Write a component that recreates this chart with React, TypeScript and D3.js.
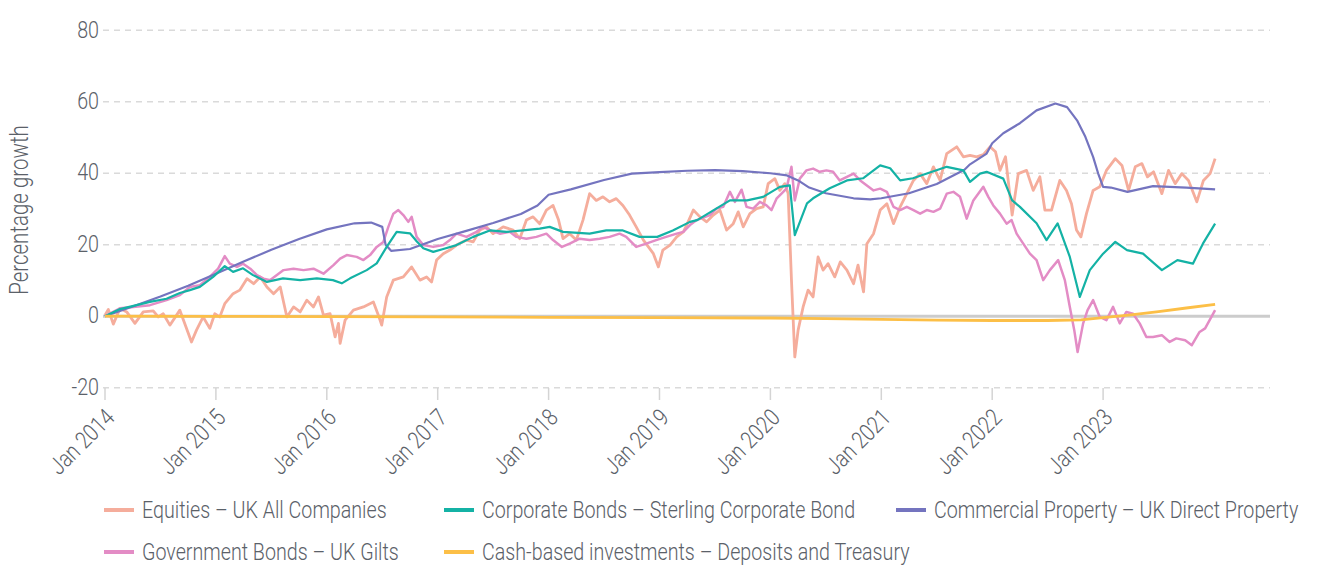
import { useEffect, useRef } from "react"
import * as d3 from "d3"

// [decimal year, percentage growth since Jan 2014]
type Point = [number, number]

const yearTicks = [2014, 2015, 2016, 2017, 2018, 2019, 2020, 2021, 2022, 2023]
const yTicks = [-20, 0, 20, 40, 60, 80]

const equities: Point[] = [
  [2014.0, 0.3], [2014.03, 1.9], [2014.075, -2.2], [2014.135, 2.2], [2014.196, 1.2], [2014.27, -2.0],
  [2014.345, 1.2], [2014.435, 1.5], [2014.48, -0.2], [2014.525, 0.7], [2014.585, -2.5], [2014.675, 1.7],
  [2014.78, -7.2], [2014.825, -3.9], [2014.885, -0.2], [2014.945, -3.4], [2014.99, 0.7], [2015.035, -0.2],
  [2015.08, 3.5], [2015.155, 6.3], [2015.215, 7.3], [2015.28, 10.5], [2015.34, 9.1], [2015.4, 11.0],
  [2015.46, 8.2], [2015.52, 6.3], [2015.58, 8.2], [2015.64, -0.2], [2015.7, 2.6], [2015.76, 1.2],
  [2015.82, 4.5], [2015.88, 2.6], [2015.925, 5.4], [2015.97, 0.3], [2016.03, 0.7], [2016.075, -5.8],
  [2016.105, -2.0], [2016.12, -7.6], [2016.165, -1.1], [2016.24, 1.7], [2016.33, 2.6], [2016.42, 4.0],
  [2016.465, 0.3], [2016.495, -2.5], [2016.54, 5.4], [2016.6, 10.1], [2016.69, 11.0], [2016.765, 13.8],
  [2016.84, 10.1], [2016.9, 11.0], [2016.945, 9.6], [2016.99, 15.7], [2017.05, 17.5], [2017.11, 18.5],
  [2017.17, 19.9], [2017.26, 21.3], [2017.32, 20.8], [2017.38, 24.1], [2017.44, 25.0], [2017.5, 23.1],
  [2017.59, 25.0], [2017.68, 24.1], [2017.74, 21.7], [2017.8, 26.9], [2017.86, 27.8], [2017.92, 25.9],
  [2017.98, 29.7], [2018.04, 31.0], [2018.09, 26.9], [2018.13, 21.7], [2018.19, 23.1], [2018.25, 21.3],
  [2018.31, 26.9], [2018.37, 34.3], [2018.43, 32.4], [2018.49, 33.4], [2018.55, 32.0], [2018.61, 32.9],
  [2018.67, 31.0], [2018.73, 28.3], [2018.79, 25.0], [2018.855, 21.3], [2018.945, 17.5], [2018.99, 13.8],
  [2019.03, 18.5], [2019.095, 19.9], [2019.155, 22.2], [2019.215, 23.6], [2019.245, 25.5], [2019.305, 29.7],
  [2019.365, 27.8], [2019.425, 26.4], [2019.485, 28.3], [2019.545, 29.7], [2019.605, 24.1], [2019.665, 25.9],
  [2019.71, 29.2], [2019.755, 25.0], [2019.815, 28.7], [2019.875, 30.1], [2019.935, 30.6], [2019.98, 37.1],
  [2020.04, 38.5], [2020.085, 35.2], [2020.13, 37.1], [2020.16, 34.3], [2020.19, 10.1], [2020.22, -11.4],
  [2020.25, -3.9], [2020.295, 2.6], [2020.34, 7.3], [2020.385, 5.4], [2020.43, 16.6], [2020.475, 12.9],
  [2020.52, 14.7], [2020.58, 11.0], [2020.63, 15.2], [2020.69, 12.9], [2020.75, 9.1], [2020.79, 14.3],
  [2020.84, 6.8], [2020.87, 20.3], [2020.93, 23.1], [2020.99, 29.7], [2021.05, 31.5], [2021.11, 25.9],
  [2021.17, 30.6], [2021.23, 34.3], [2021.29, 38.0], [2021.35, 39.9], [2021.41, 37.1], [2021.47, 41.8],
  [2021.53, 38.0], [2021.59, 45.5], [2021.68, 47.4], [2021.74, 44.6], [2021.8, 45.0], [2021.86, 44.6],
  [2021.92, 45.2], [2021.98, 47.4], [2022.03, 46.0], [2022.07, 40.8], [2022.12, 44.6], [2022.18, 28.3],
  [2022.235, 39.9], [2022.31, 40.8], [2022.37, 35.2], [2022.43, 39.0], [2022.475, 29.7], [2022.535, 29.7],
  [2022.61, 38.0], [2022.67, 35.2], [2022.715, 31.5], [2022.76, 24.1], [2022.8, 22.2], [2022.85, 28.7],
  [2022.91, 35.2], [2022.97, 36.2], [2023.03, 40.8], [2023.11, 44.1], [2023.17, 42.2], [2023.23, 35.2],
  [2023.29, 41.8], [2023.35, 42.7], [2023.4, 39.0], [2023.455, 40.4], [2023.53, 34.3], [2023.59, 40.8],
  [2023.65, 37.1], [2023.71, 39.9], [2023.77, 38.0], [2023.845, 32.0], [2023.905, 38.0], [2023.965, 39.9],
  [2024.01, 44.1],
]

const corporateBonds: Point[] = [
  [2014.0, 0], [2014.135, 2.0], [2014.405, 4.0], [2014.555, 4.9], [2014.675, 6.5], [2014.765, 7.3],
  [2014.855, 8.2], [2014.975, 11.0], [2015.08, 14.0], [2015.155, 12.4], [2015.245, 13.4], [2015.335, 11.5],
  [2015.46, 9.6], [2015.605, 10.6], [2015.76, 10.1], [2015.91, 10.6], [2016.055, 10.1], [2016.135, 9.2],
  [2016.21, 10.6], [2016.36, 12.9], [2016.45, 14.8], [2016.54, 19.4], [2016.63, 23.6], [2016.75, 23.2],
  [2016.81, 21.0], [2016.87, 19.0], [2016.96, 18.0], [2017.05, 18.8], [2017.17, 19.9], [2017.32, 22.2],
  [2017.47, 24.0], [2017.62, 23.6], [2017.77, 24.0], [2017.92, 24.5], [2018.01, 25.0], [2018.13, 23.6],
  [2018.37, 23.1], [2018.52, 24.0], [2018.67, 24.0], [2018.82, 22.2], [2018.98, 22.2], [2019.12, 24.0],
  [2019.275, 26.4], [2019.34, 26.9], [2019.485, 29.6], [2019.635, 32.4], [2019.79, 32.4], [2019.935, 33.4],
  [2020.085, 36.2], [2020.175, 36.6], [2020.22, 22.7], [2020.33, 31.6], [2020.385, 33.0], [2020.535, 35.8],
  [2020.69, 38.0], [2020.835, 38.6], [2020.99, 42.2], [2021.08, 41.4], [2021.17, 38.0], [2021.285, 38.6],
  [2021.59, 41.8], [2021.74, 40.8], [2021.8, 37.6], [2021.89, 39.9], [2021.95, 40.4], [2022.1, 38.5],
  [2022.18, 32.4], [2022.25, 30.6], [2022.4, 26.0], [2022.49, 21.3], [2022.59, 26.0], [2022.7, 16.6],
  [2022.79, 5.4], [2022.88, 12.9], [2023.0, 17.5], [2023.11, 20.8], [2023.215, 18.5], [2023.36, 17.5],
  [2023.53, 12.9], [2023.67, 15.7], [2023.81, 14.7], [2023.9, 20.3], [2024.01, 25.9],
]

const commercialProperty: Point[] = [
  [2014.0, 0], [2014.25, 2.7], [2014.5, 5.5], [2014.75, 8.5], [2015.0, 11.9], [2015.25, 15.3],
  [2015.5, 18.6], [2015.75, 21.6], [2016.0, 24.3], [2016.25, 26.0], [2016.4, 26.2], [2016.5, 25.0],
  [2016.53, 20.0], [2016.58, 18.3], [2016.75, 18.8], [2017.0, 21.6], [2017.25, 23.8], [2017.5, 26.1],
  [2017.75, 28.6], [2017.9, 31.0], [2018.0, 34.0], [2018.2, 35.5], [2018.5, 38.1], [2018.75, 39.9],
  [2019.0, 40.3], [2019.25, 40.7], [2019.5, 40.9], [2019.75, 40.6], [2020.0, 40.0], [2020.15, 39.4],
  [2020.25, 38.0], [2020.35, 36.0], [2020.5, 34.4], [2020.75, 33.0], [2020.9, 32.7], [2021.0, 33.0],
  [2021.25, 34.4], [2021.5, 37.0], [2021.75, 41.0], [2021.8, 42.5], [2021.95, 45.5], [2022.0, 48.4],
  [2022.1, 51.2], [2022.25, 54.0], [2022.4, 57.6], [2022.57, 59.5], [2022.675, 58.5], [2022.765, 54.8],
  [2022.84, 50.2], [2022.91, 44.6], [2022.955, 40.0], [2023.0, 36.2], [2023.07, 36.0], [2023.22, 34.8],
  [2023.45, 36.4], [2023.75, 36.0], [2023.9, 35.7], [2024.01, 35.5],
]

const governmentBonds: Point[] = [
  [2014.0, 0], [2014.135, 2.2], [2014.255, 2.6], [2014.405, 3.1], [2014.555, 4.5], [2014.675, 5.9],
  [2014.765, 8.2], [2014.855, 8.7], [2014.945, 11.0], [2015.02, 13.3], [2015.08, 16.8], [2015.125, 14.7],
  [2015.19, 13.8], [2015.245, 14.7], [2015.31, 13.3], [2015.37, 11.5], [2015.43, 10.5], [2015.49, 10.1],
  [2015.55, 11.5], [2015.61, 12.9], [2015.7, 13.3], [2015.79, 12.9], [2015.88, 13.3], [2015.97, 11.9],
  [2016.06, 14.3], [2016.12, 16.1], [2016.18, 17.1], [2016.27, 16.6], [2016.33, 15.7], [2016.39, 17.1],
  [2016.45, 19.4], [2016.51, 20.8], [2016.555, 25.0], [2016.6, 28.7], [2016.645, 29.7], [2016.69, 28.3],
  [2016.735, 26.4], [2016.765, 27.8], [2016.81, 22.2], [2016.87, 19.9], [2016.96, 19.4], [2017.05, 19.9],
  [2017.11, 21.3], [2017.17, 23.1], [2017.26, 22.2], [2017.35, 23.6], [2017.41, 25.0], [2017.47, 24.1],
  [2017.56, 23.1], [2017.65, 23.6], [2017.71, 22.2], [2017.8, 21.7], [2017.89, 22.2], [2017.98, 23.1],
  [2018.04, 21.3], [2018.12, 19.4], [2018.19, 20.3], [2018.28, 21.7], [2018.37, 21.3], [2018.46, 21.7],
  [2018.55, 22.2], [2018.64, 23.1], [2018.7, 22.2], [2018.79, 19.4], [2018.88, 20.3], [2018.97, 21.3],
  [2019.06, 22.2], [2019.155, 23.1], [2019.215, 23.6], [2019.275, 25.5], [2019.335, 26.9], [2019.455, 28.3],
  [2019.515, 30.1], [2019.575, 30.6], [2019.635, 34.8], [2019.68, 32.0], [2019.74, 35.4], [2019.785, 30.6],
  [2019.845, 30.1], [2019.905, 32.0], [2019.965, 31.0], [2020.01, 29.7], [2020.055, 32.9], [2020.145, 35.7],
  [2020.19, 41.8], [2020.22, 32.4], [2020.265, 38.5], [2020.325, 40.8], [2020.385, 41.3], [2020.445, 40.4],
  [2020.505, 40.8], [2020.565, 40.4], [2020.625, 38.0], [2020.69, 39.0], [2020.75, 39.9], [2020.81, 38.0],
  [2020.87, 36.6], [2020.93, 35.2], [2020.99, 35.7], [2021.05, 34.8], [2021.11, 30.6], [2021.17, 29.7],
  [2021.23, 30.6], [2021.29, 29.7], [2021.35, 28.7], [2021.41, 29.7], [2021.47, 29.2], [2021.53, 30.1],
  [2021.59, 34.3], [2021.65, 34.8], [2021.71, 33.4], [2021.77, 27.3], [2021.83, 32.4], [2021.92, 36.2],
  [2021.965, 33.4], [2022.01, 31.0], [2022.07, 28.7], [2022.13, 25.9], [2022.175, 26.9], [2022.22, 23.1],
  [2022.28, 20.3], [2022.34, 17.5], [2022.4, 15.7], [2022.46, 10.1], [2022.52, 12.9], [2022.595, 15.7],
  [2022.655, 10.1], [2022.7, 2.6], [2022.74, -3.9], [2022.77, -10.0], [2022.82, -2.0], [2022.86, 1.7],
  [2022.91, 4.5], [2022.97, -0.2], [2023.03, -1.1], [2023.09, 2.6], [2023.15, -2.0], [2023.21, 1.2],
  [2023.27, 0.7], [2023.33, -2.0], [2023.39, -5.8], [2023.45, -5.8], [2023.53, -5.3], [2023.6, -7.2],
  [2023.66, -6.2], [2023.74, -6.7], [2023.8, -8.1], [2023.87, -4.4], [2023.92, -3.4], [2024.01, 1.7],
]

const cashDeposits: Point[] = [
  [2014.0, 0], [2015.0, -0.05], [2016.0, -0.1], [2017.0, -0.2], [2018.0, -0.3], [2019.0, -0.4],
  [2020.0, -0.5], [2020.5, -0.7], [2021.0, -0.9], [2021.5, -1.1], [2022.0, -1.2], [2022.5, -1.2],
  [2022.8, -1.0], [2023.0, -0.4], [2023.25, 0.4], [2023.5, 1.3], [2023.75, 2.3], [2024.01, 3.3],
]

const seriesNames = [
  "Equities – UK All Companies",
  "Corporate Bonds – Sterling Corporate Bond",
  "Commercial Property – UK Direct Property",
  "Government Bonds – UK Gilts",
  "Cash-based investments – Deposits and Treasury",
]
const seriesColors = ["#f5ad9c", "#14b2a5", "#7474bf", "#e38cc5", "#fcbf47"]
const seriesData = [equities, corporateBonds, commercialProperty, governmentBonds, cashDeposits]

export default function App() {
  const svgRef = useRef<SVGSVGElement>(null)

  useEffect(() => {
    if (!svgRef.current) return
    const width = 1318
    const height = 565
    // no narrow font is installed, so a regular sans is squeezed horizontally
    const font = "Roboto, 'Liberation Sans', sans-serif"
    const squeeze = "scale(0.82,1)"
    const textColor = "#5b6169"

    const svg = d3.select(svgRef.current)
    svg.selectAll("*").remove()
    svg
      .attr("width", width)
      .attr("height", height)
      .style("font-family", font)
      .style("font-weight", 300)

    // plot spans Jan 2014 .. a half year after the last data point
    const x = d3.scaleLinear().domain([2014, 2024.505]).range([105, 1270])
    const y = d3.scaleLinear().domain([-20, 80]).range([387.7, 30.3])

    // gridlines
    const grid = svg.append("g")
    grid
      .selectAll("line")
      .data(yTicks.filter((d) => d !== 0))
      .enter()
      .append("line")
      .attr("x1", 103)
      .attr("x2", 1270)
      .attr("y1", (d) => y(d))
      .attr("y2", (d) => y(d))
      .style("stroke", "#dadada")
      .style("stroke-width", 1.5)
      .style("stroke-dasharray", "6 5")

    // y tick labels
    svg
      .append("g")
      .selectAll("text")
      .data(yTicks)
      .enter()
      .append("text")
      .attr("transform", (d) => `translate(99, ${y(d)}) ${squeeze}`)
      .attr("dy", "0.3em")
      .attr("text-anchor", "end")
      .style("font-size", "24px")
      .style("fill", textColor)
      .text((d) => String(d))

    // y axis title
    svg
      .append("text")
      .attr("transform", `translate(28, 210) rotate(-90) ${squeeze}`)
      .attr("text-anchor", "middle")
      .style("font-size", "25px")
      .style("fill", textColor)
      .text("Percentage growth")

    // x ticks and labels
    const xAxis = svg.append("g")
    xAxis
      .selectAll("line")
      .data(yearTicks)
      .enter()
      .append("line")
      .attr("x1", (d) => x(d))
      .attr("x2", (d) => x(d))
      .attr("y1", 388)
      .attr("y2", 400)
      .style("stroke", "#d4d4d4")
      .style("stroke-width", 1.5)

    xAxis
      .selectAll("text")
      .data(yearTicks)
      .enter()
      .append("text")
      .attr("transform", (d) => `translate(${x(d) + 11}, 419) rotate(-45) ${squeeze}`)
      .attr("text-anchor", "end")
      .style("font-size", "24px")
      .style("fill", textColor)
      .text((d) => `Jan ${d}`)

    // zero baseline
    svg
      .append("line")
      .attr("x1", 103)
      .attr("x2", 1270)
      .attr("y1", y(0))
      .attr("y2", y(0))
      .style("stroke", "#cccccc")
      .style("stroke-width", 3)

    const line = d3
      .line<Point>()
      .x((d) => x(d[0]))
      .y((d) => y(d[1]))
      .curve(d3.curveLinear)

    // draw order: equities, gilts, property, corporate bonds, cash
    const order = [0, 3, 2, 1, 4]
    order.forEach((i) => {
      svg
        .append("path")
        .datum(seriesData[i])
        .attr("d", line)
        .style("fill", "none")
        .style("stroke", seriesColors[i])
        .style("stroke-width", i === 0 || i === 4 ? 2.8 : i === 3 ? 2.5 : 2.2)
        .style("stroke-linejoin", "round")
    })

    // legend
    const legendX = [104, 444, 896]
    const legend = svg.append("g")
    seriesNames.forEach((name, i) => {
      const row = Math.floor(i / 3)
      const col = i % 3
      const item = legend
        .append("g")
        .attr("transform", `translate(${legendX[col]}, ${510 + row * 42})`)
      item
        .append("line")
        .attr("x1", 0)
        .attr("x2", 30)
        .attr("y1", 0)
        .attr("y2", 0)
        .style("stroke", seriesColors[i])
        .style("stroke-width", 4)
      item
        .append("text")
        .attr("transform", `translate(38, 0) ${squeeze}`)
        .attr("dy", "0.35em")
        .style("font-size", "24px")
        .style("fill", textColor)
        .text(name)
    })
  }, [])

  return (
    <div style={{ position: "absolute", left: 0, top: 0, background: "#fff" }}>
      <svg ref={svgRef} style={{ display: "block" }} />
    </div>
  )
}
